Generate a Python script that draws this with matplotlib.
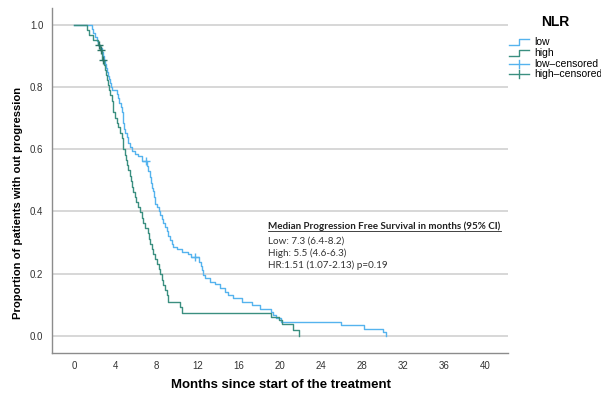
import numpy as np
import matplotlib.pyplot as plt
from matplotlib.lines import Line2D

# Kaplan-Meier steps: time of each drop (months) and survival after it
low_t = [0, 1.7, 1.85, 2.0, 2.2, 2.35, 2.5, 2.65, 2.76, 2.9, 3.0, 3.1, 3.2, 3.3, 3.4, 3.5, 3.6, 3.65,
         4.15, 4.3, 4.4, 4.52, 4.6, 4.7, 4.78, 4.87, 4.94, 5.1, 5.26, 5.42, 5.6, 5.9, 6.2, 6.6,
         7.1, 7.2, 7.37, 7.5, 7.6, 7.69, 7.8, 7.9, 8.02, 8.2, 8.34, 8.5, 8.67, 8.85, 9.0, 9.15,
         9.32, 9.5, 9.64, 10.0, 10.5, 11.1, 11.4, 12.1, 12.3, 12.4, 12.55, 12.73, 13.2, 13.7,
         14.2, 14.7, 15.0, 15.5, 16.3, 17.3, 18.1, 19.2, 19.3, 19.6, 20.1, 26.0, 28.2, 30.1, 30.35]
low_s = [1.0, 0.987, 0.975, 0.962, 0.95, 0.937, 0.925, 0.912, 0.9, 0.887, 0.875, 0.862, 0.85, 0.837,
         0.825, 0.812, 0.80, 0.79, 0.777, 0.764, 0.75, 0.735, 0.72, 0.70, 0.685, 0.665, 0.652, 0.64,
         0.62, 0.608, 0.595, 0.585, 0.578, 0.562, 0.545, 0.53, 0.51, 0.49, 0.475, 0.465, 0.445, 0.425,
         0.413, 0.40, 0.388, 0.375, 0.362, 0.35, 0.336, 0.322, 0.308, 0.296, 0.286, 0.278, 0.27, 0.262,
         0.252, 0.238, 0.224, 0.21, 0.197, 0.185, 0.174, 0.165, 0.154, 0.142, 0.131, 0.12, 0.109,
         0.098, 0.087, 0.076, 0.067, 0.056, 0.045, 0.034, 0.022, 0.011, 0.0]
low_cens_t = [6.98, 11.8]
low_cens_s = [0.562, 0.252]

high_t = [0, 1.2, 1.4, 1.85, 2.3, 2.5, 2.65, 2.72, 2.9, 3.0, 3.1, 3.2, 3.31, 3.4, 3.5, 3.64, 3.72, 3.8,
          4.0, 4.15, 4.29, 4.45, 4.6, 4.7, 4.78, 4.9, 5.0, 5.1, 5.25, 5.42, 5.5, 5.59, 5.75, 5.91, 6.0,
          6.2, 6.4, 6.55, 6.72, 6.9, 7.2, 7.3, 7.37, 7.55, 7.69, 7.85, 8.02, 8.2, 8.34, 8.5, 8.67, 8.85,
          9.0, 9.15, 10.3, 10.46, 19.2, 19.9, 20.2, 21.3, 21.9]
high_s = [1.0, 0.984, 0.968, 0.952, 0.936, 0.92, 0.904, 0.888, 0.872, 0.856, 0.84, 0.824, 0.808, 0.79,
          0.775, 0.757, 0.74, 0.72, 0.70, 0.685, 0.672, 0.652, 0.636, 0.62, 0.60, 0.583, 0.567, 0.55,
          0.533, 0.515, 0.498, 0.48, 0.464, 0.447, 0.43, 0.414, 0.398, 0.38, 0.362, 0.346, 0.33, 0.312,
          0.296, 0.28, 0.262, 0.246, 0.23, 0.214, 0.2, 0.18, 0.163, 0.148, 0.132, 0.11, 0.092, 0.074,
          0.061, 0.05, 0.037, 0.018, 0.0]
high_cens_t = [2.44, 2.57, 2.83]
high_cens_s = [0.936, 0.92, 0.888]

x_ticks = [0, 4, 8, 12, 16, 20, 24, 28, 32, 36, 40]
y_ticks = [0.0, 0.2, 0.4, 0.6, 0.8, 1.0]

stats_lines = ["Low: 7.3 (6.4-8.2)", "High: 5.5 (4.6-6.3)", "HR:1.51 (1.07-2.13) p=0.19"]

c_low = '#55b3ee'
c_high = '#3b8f80'

plt.rcParams['font.family'] = ['Liberation Sans', 'DejaVu Sans']

fig = plt.figure(figsize=(6.01, 4.03), dpi=100)
ax = fig.add_axes([0.0862, 0.1248, 0.7591, 0.8553])

ax.step(low_t, low_s, where='post', color=c_low, lw=1.0)
ax.step(high_t, high_s, where='post', color=c_high, lw=1.0)
ax.plot(low_cens_t, low_cens_s, '+', color=c_low, ms=6, mew=1.0)
ax.plot(high_cens_t, high_cens_s, '+', color='#2a7566', ms=6, mew=1.0)

ax.set_xlim(-2.19, 42.23)
ax.set_ylim(-0.0547, 1.0547)
ax.set_xticks(x_ticks)
ax.set_yticks(y_ticks)
ax.set_yticklabels([f'{v:.1f}' for v in y_ticks])
ax.tick_params(length=0, labelsize=7, colors='#333333', pad=6)
for v in y_ticks:
    ax.axhline(v, color='#d4d4d4', lw=1.3, zorder=0)

for side in ['top', 'right']:
    ax.spines[side].set_visible(False)
for side in ['left', 'bottom']:
    ax.spines[side].set_color('#8c8c8c')
    ax.spines[side].set_linewidth(1.0)

ax.set_xlabel('Months since start of the treatment', fontsize=9.5, fontweight='bold', va='center')
ax.set_ylabel('Proportion of patients with out progression', fontsize=8.1, fontweight='bold', va='center')
ax.xaxis.set_label_coords(0.5024, -0.095)
ax.yaxis.set_label_coords(-0.074, 0.434)

# survival summary box
txt_font = ['Lato', 'DejaVu Sans']
head = ax.text(18.9, 0.345, 'Median Progression Free Survival in months (95% CI)', fontsize=7.1,
               fontweight='bold', family=txt_font, va='baseline', color='#222222')
for i, line in enumerate(stats_lines):
    ax.text(18.9, 0.297 - i * 0.04, line, fontsize=7.1, family=txt_font, va='baseline', color='#333333')

fig.canvas.draw()
bb = head.get_window_extent()
fig.add_artist(Line2D([bb.x0 / fig.bbox.width, bb.x1 / fig.bbox.width],
                      [(bb.y0 - 0.5) / fig.bbox.height] * 2, color='#222222', lw=0.6))

# legend drawn beside the plot
def px(x, y):
    return x / 601, 1 - y / 403

fig.text(*px(555, 22), 'NLR', fontsize=10, fontweight='bold', ha='center', va='center')
rows = [('low', c_low, 'step'), ('high', c_high, 'step'),
        ('low\u2013censored', c_low, 'cross'), ('high\u2013censored', c_high, 'cross')]
for i, (lab, col, kind) in enumerate(rows):
    y = 42 + i * 10.8
    if kind == 'step':
        xs = [509, 519, 519, 529]
        ys = [y + 3, y + 3, y - 3, y - 3]
    else:
        xs = [509, 529]
        ys = [y, y]
    pts = [px(a, b) for a, b in zip(xs, ys)]
    fig.add_artist(Line2D([p[0] for p in pts], [p[1] for p in pts], color=col, lw=1.0))
    if kind == 'cross':
        fig.add_artist(Line2D([px(519, 0)[0]] * 2, [px(0, y - 4)[1], px(0, y + 4)[1]], color=col, lw=1.0))
    fig.text(*px(534, y), lab, fontsize=7.5, va='center', ha='left')

fig.savefig('out.png', dpi=100)
